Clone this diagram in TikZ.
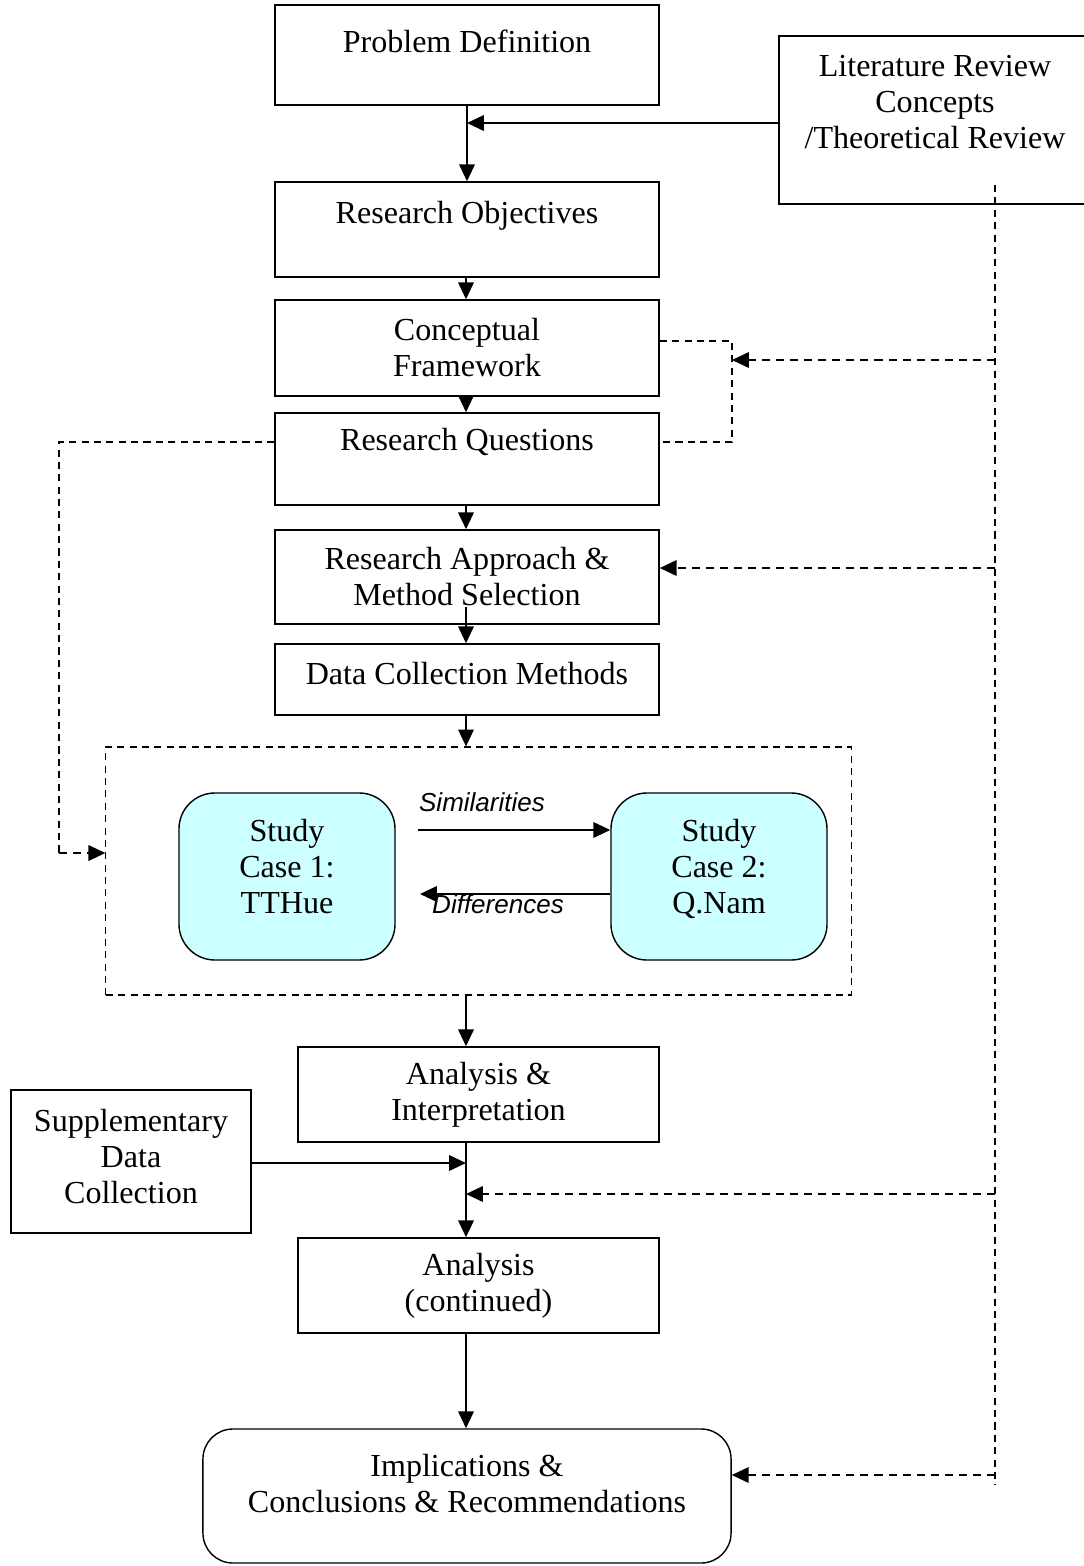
\documentclass[tikz,border=0pt]{standalone}
\usepackage{fontspec}
\setmainfont{Liberation Serif}
\newfontfamily\tagfont{Liberation Sans}
\usetikzlibrary{arrows.meta,positioning}
\definecolor{casefill}{RGB}{204,255,255}

\begin{document}
\begin{tikzpicture}[x=0.025cm,y=-0.025cm,
    every node/.style={font=\fontsize{22.8}{25.6}\selectfont},
    box/.style={draw,line width=1pt,minimum width=9.6cm,align=center,inner sep=1pt},
    casebox/.style={box,fill=casefill,rounded corners=0.9cm,minimum width=5.4cm,minimum height=4.175cm,text depth=14.1pt},
    flow/.style={line width=1.4pt,-{Triangle[length=12pt,width=11pt]}},
    feed/.style={flow,dash pattern=on 5.7pt off 4.3pt},
    guide/.style={line width=0.8pt,dash pattern=on 5pt off 3.8pt},
    tag/.style={font=\tagfont\itshape\fontsize{18.5}{22}\selectfont}]
  \useasboundingbox (0,0) rectangle (1084,1566);
  % main column
  \node[box,minimum height=2.5cm,text height=15.7pt,text depth=19.1pt] (pd) at (467,55) {Problem Definition};
  \node[box,minimum width=7.8cm,minimum height=4.2cm,text depth=26.3pt] (lit) at (935,120) {Literature Review\\Concepts\\/Theoretical Review};
  \node[box,minimum height=2.375cm,text height=15.7pt,text depth=24.1pt] (ro) at (467,229.5) {Research Objectives};
  \node[box,minimum height=2.4cm] (cf) at (467,348) {Conceptual\\Framework};
  \node[box,minimum height=2.3cm,text height=15.7pt,text depth=27.7pt] (rq) at (467,459) {Research Questions};
  \node[box,minimum height=2.35cm] (ra) at (467,577) {Research Approach \&\\Method Selection};
  \node[box,minimum height=1.775cm,text height=15.7pt,text depth=8.5pt] (dc) at (467,679.5) {Data Collection Methods};
  % case studies
  \node[draw,guide,minimum width=18.625cm,minimum height=6.2cm] (cases) at (478.5,871) {};
  \node[casebox] (sc1) at (287,876.5) {Study\\Case 1:\\TTHue};
  \node[casebox] (sc2) at (719,876.5) {Study\\Case 2:\\Q.Nam};
  \coordinate (sim) at (418,830);
  \coordinate (dif) at (420,894);
  \node[tag] (simtag) at (482,802) {Similarities};
  \node[tag] (diftag) at (498,904) {Differences};
  % analysis
  \node[box,minimum width=9.025cm,minimum height=2.375cm] (ai) at (478.5,1094.5) {Analysis \&\\Interpretation};
  \node[box,minimum width=6cm,minimum height=3.575cm,text depth=7.1pt] (supp) at (131,1161.5) {Supplementary\\Data\\Collection};
  \node[box,minimum width=9.025cm,minimum height=2.375cm] (ac) at (478.5,1285.5) {Analysis\\(continued)};
  \node[box,rounded corners=0.75cm,minimum width=13.2cm,minimum height=3.35cm,text depth=17.7pt] (impl) at (467,1496) {Implications \&\\Conclusions \& Recommendations};
  % junctions
  \coordinate (spine) at (466,0);
  \coordinate (litin) at (467,123);
  \coordinate (suppin) at (466,1163);
  \coordinate (revin) at (466,1194);
  \coordinate (rail) at (995,185);
  \coordinate (railend) at (995,1485);
  \coordinate (brk) at (732,360);
  \coordinate (qleft) at (59,853);

  \draw[flow] (pd.south) -- (ro.north);
  \draw[flow] (lit.west |- litin) -- (litin);
  \draw[flow] (ro.south -| spine) -- (cf.north -| spine);
  \draw[flow] (cf.south -| spine) -- (rq.north -| spine);
  \draw[flow] (rq.south -| spine) -- (ra.north -| spine);
  \draw[flow] ([yshift=0.45cm]ra.south -| spine) -- (dc.north -| spine);
  \draw[flow] (dc.south -| spine) -- (cases.north -| spine);
  \draw[flow] (cases.south -| spine) -- (ai.north -| spine);
  \draw[flow] (ai.south -| spine) -- (ac.north -| spine);
  \draw[flow] (ac.south -| spine) -- (impl.north -| spine);
  \draw[flow] (supp.east |- suppin) -- (suppin);
  \draw[flow] (sim) -- (sc2.west |- sim);
  \draw[flow] (sc2.west |- dif) -- (dif);

  % review feedback
  \draw[guide] (rail) -- (railend);
  \draw[guide] (cf.east |- 0,341) -| (brk |- 0,442) -- (rq.east |- 0,442);
  \draw[feed] (rail |- brk) -- (brk);
  \draw[feed] (rail |- 0,568) -- (ra.east |- 0,568);
  \draw[feed] (rail |- revin) -- (revin);
  \draw[feed] (rail |- 0,1475) -- (impl.east |- 0,1475);

  % questions to cases
  \draw[guide] (rq.west |- 0,442) -| (qleft);
  \draw[feed] (qleft) -- (cases.west |- qleft);
\end{tikzpicture}
\end{document}
